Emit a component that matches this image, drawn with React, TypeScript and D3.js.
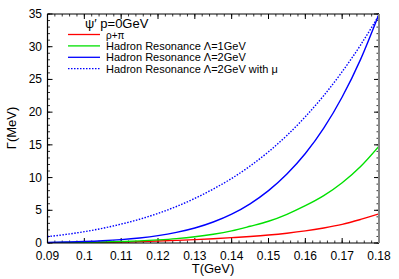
import React from "react";
import * as d3 from "d3";

const temps = [0.09, 0.095, 0.10, 0.105, 0.11, 0.115, 0.12, 0.125, 0.13, 0.135, 0.14, 0.145, 0.15, 0.155, 0.16, 0.165, 0.17, 0.175, 0.18];
const rhoPi = [0.015, 0.03, 0.055, 0.09, 0.14, 0.21, 0.3, 0.4, 0.52, 0.66, 0.82, 1.0, 1.22, 1.5, 1.85, 2.3, 2.85, 3.6, 4.45];
const hr1 = [0.044, 0.067, 0.10, 0.15, 0.22, 0.32, 0.47, 0.67, 0.95, 1.34, 1.86, 2.56, 3.32, 4.39, 5.7, 7.24, 9.21, 11.7, 14.81];
const hr2 = [0.092, 0.144, 0.224, 0.343, 0.517, 0.767, 1.12, 1.62, 2.29, 3.21, 4.41, 5.99, 8.0, 10.54, 13.67, 17.55, 22.31, 28.07, 35.0];
const hr2mu = [0.97, 1.31, 1.73, 2.25, 2.89, 3.63, 4.53, 5.58, 6.82, 8.25, 9.87, 11.76, 13.94, 16.44, 19.3, 22.53, 26.18, 30.26, 34.81];
const xTicks = [0.09, 0.1, 0.11, 0.12, 0.13, 0.14, 0.15, 0.16, 0.17, 0.18];
const yTicks = [0, 5, 10, 15, 20, 25, 30, 35];
const legendTitle = "ψ′ p=0GeV";
const seriesNames = ["ρ+π", "Hadron Resonance Λ=1GeV", "Hadron Resonance Λ=2GeV", "Hadron Resonance Λ=2GeV with μ"];
const seriesColors = ["#ff0000", "#00e000", "#0000ff", "#0000ff"];

export default function App() {
  const W = 399, H = 279;
  const L = 47.5, R = 379, T = 14, B = 243;
  const x = d3.scaleLinear().domain([0.09, 0.18]).range([L, R]);
  const y = d3.scaleLinear().domain([0, 35]).range([B, T]);
  const series = [rhoPi, hr1, hr2, hr2mu];
  const line = d3.line<[number, number]>().x(d => x(d[0])).y(d => y(d[1])).curve(d3.curveMonotoneX);
  const xMinor = d3.range(0.09, 0.18 + 1e-9, 0.002);
  const yMinor = d3.range(0, 35 + 1e-9, 1);
  const font = "Liberation Sans, Arial, Helvetica, sans-serif";
  return (
    <svg width={W} height={H} style={{ position: "absolute", left: 0, top: 0 }} fontFamily={font}>
      <rect x={0} y={0} width={W} height={H} fill="#fff" />
      <defs>
        <clipPath id="plotclip"><rect x={L} y={T - 1} width={R - L} height={B - T + 1} /></clipPath>
      </defs>
      {xMinor.map((v, i) => (
        <g key={"xm" + i} stroke="#000" strokeWidth={0.8}>
          <line x1={x(v)} x2={x(v)} y1={B} y2={B - 2.5} />
          <line x1={x(v)} x2={x(v)} y1={T} y2={T + 2.5} />
        </g>
      ))}
      {yMinor.map((v, i) => (
        <g key={"ym" + i} stroke="#000" strokeWidth={0.8}>
          <line x1={L} x2={L + 2.5} y1={y(v)} y2={y(v)} />
          <line x1={R} x2={R - 2.5} y1={y(v)} y2={y(v)} />
        </g>
      ))}
      {xTicks.map((v, i) => (
        <g key={"xt" + i}>
          <line x1={x(v)} x2={x(v)} y1={B} y2={B - 5} stroke="#000" strokeWidth={1} />
          <line x1={x(v)} x2={x(v)} y1={T} y2={T + 5} stroke="#000" strokeWidth={1} />
          <text x={x(v)} y={260} textAnchor="middle" fontSize={12} fill="#000">{String(v)}</text>
        </g>
      ))}
      {yTicks.map((v, i) => (
        <g key={"yt" + i}>
          <line x1={L} x2={L + 5} y1={y(v)} y2={y(v)} stroke="#000" strokeWidth={1} />
          <line x1={R} x2={R - 5} y1={y(v)} y2={y(v)} stroke="#000" strokeWidth={1} />
          <text x={42} y={y(v) + 4} textAnchor="end" fontSize={12} fill="#000">{String(v)}</text>
        </g>
      ))}
      <g clipPath="url(#plotclip)">
        {series.map((s, k) => (
          <path key={"s" + k}
            d={line(temps.map((t, i) => [t, s[i]] as [number, number])) || ""}
            fill="none" stroke={seriesColors[k]} strokeWidth={1.4}
            strokeDasharray={k === 3 ? "1.5,1.5" : undefined} />
        ))}
      </g>
      <line x1={L} x2={R} y1={T} y2={T} stroke="#000" strokeWidth={1} />
      <line x1={L} x2={R} y1={B} y2={B} stroke="#000" strokeWidth={1.2} />
      <line x1={L} x2={L} y1={T} y2={B} stroke="#000" strokeWidth={1.2} />
      <line x1={R} x2={R} y1={T} y2={B} stroke="#888" strokeWidth={2} />
      <text x={85} y={27.5} fontSize={13} fill="#000">{legendTitle}</text>
      {seriesNames.map((n, k) => (
        <g key={"lg" + k}>
          <line x1={68} x2={100} y1={34.5 + k * 11.4} y2={34.5 + k * 11.4} stroke={seriesColors[k]} strokeWidth={1.3}
            strokeDasharray={k === 3 ? "1.5,1.5" : undefined} />
          <text x={106} y={k === 0 ? 39 : 38.5 + k * 11.4} fontSize={k === 0 ? 10 : 11} fill="#000">{n}</text>
        </g>
      ))}
      <text x={213} y={273} textAnchor="middle" fontSize={13} fill="#000">T(GeV)</text>
      <text transform="translate(16,128) rotate(-90)" textAnchor="middle" fontSize={13} fill="#000">Γ(MeV)</text>
    </svg>
  );
}
